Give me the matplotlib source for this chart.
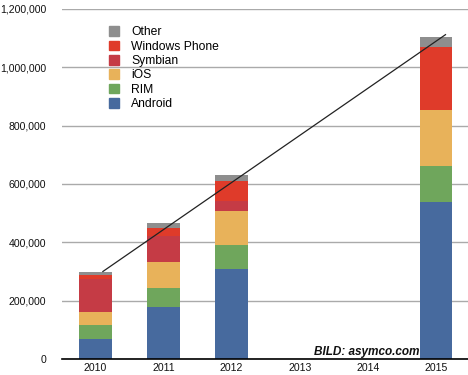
import numpy as np
import matplotlib
matplotlib.use("Agg")
import matplotlib.pyplot as plt
from matplotlib.patches import Patch
from matplotlib.ticker import FuncFormatter

plt.rcParams['font.family'] = ['Liberation Sans', 'DejaVu Sans']

years = ['2010', '2011', '2012', '2013', '2014', '2015']
android = [70000, 179000, 310000, 0, 0, 539000]
rim = [45000, 65000, 82000, 0, 0, 124000]
ios = [47000, 90000, 116000, 0, 0, 192000]
symbian = [111000, 89000, 35000, 0, 0, 0]
windows_phone = [14000, 27000, 68000, 0, 0, 216000]
other = [12000, 17000, 21000, 0, 0, 34000]

# trend line (x in category index units)
trend_x = [0.11, 5.14]
trend_y = [300000, 1112000]

series = [('Android', android, '#476a9e'),
          ('RIM', rim, '#6fa65c'),
          ('iOS', ios, '#e8b25a'),
          ('Symbian', symbian, '#c53b45'),
          ('Windows Phone', windows_phone, '#df3b2a'),
          ('Other', other, '#8e8e8e')]

fig = plt.figure(figsize=(4.68, 3.75), dpi=100)
ax = fig.add_axes([62/468, 16/375, 408/468, 350/375])

x = np.arange(len(years))
bottom = np.zeros(len(years))
for name, vals, col in series:
    ax.bar(x, vals, width=0.48, bottom=bottom, color=col, zorder=2)
    bottom += np.array(vals)

ax.plot(trend_x, trend_y, color='#222222', lw=0.9, zorder=3)

ax.set_xlim(-0.49, 5.5)
ax.set_ylim(0, 1200000)
ax.set_yticks(np.arange(0, 1200001, 200000))
ax.yaxis.set_major_formatter(FuncFormatter(lambda v, p: f'{int(v):,}'))
ax.set_xticks(x)
ax.set_xticklabels(years)
ax.yaxis.grid(True, color='#aaaaaa', lw=1, zorder=0)
for s in ['top', 'right', 'left']:
    ax.spines[s].set_visible(False)
ax.spines['bottom'].set_color('black')
ax.spines['bottom'].set_linewidth(1.2)
ax.tick_params(axis='both', length=0, labelsize=7.6, colors='#111111')
ax.tick_params(axis='y', pad=11.5)
ax.tick_params(axis='x', pad=3)

handles = [Patch(color=c) for _, _, c in series[::-1]]
labels = [n for n, _, _ in series[::-1]]
ax.legend(handles, labels, loc='upper left', bbox_to_anchor=(0.103, 0.965),
          frameon=False, fontsize=8.7, handlelength=0.85, handleheight=0.85,
          handletextpad=1.0, labelspacing=0.2, borderaxespad=0)

ax.text(5 - 0.24, 3000, 'BILD: asymco.com', ha='right', va='bottom',
        fontsize=8.5, style='italic', fontweight='bold', color='#111111', zorder=4)

fig.savefig('out.png', dpi=100)
